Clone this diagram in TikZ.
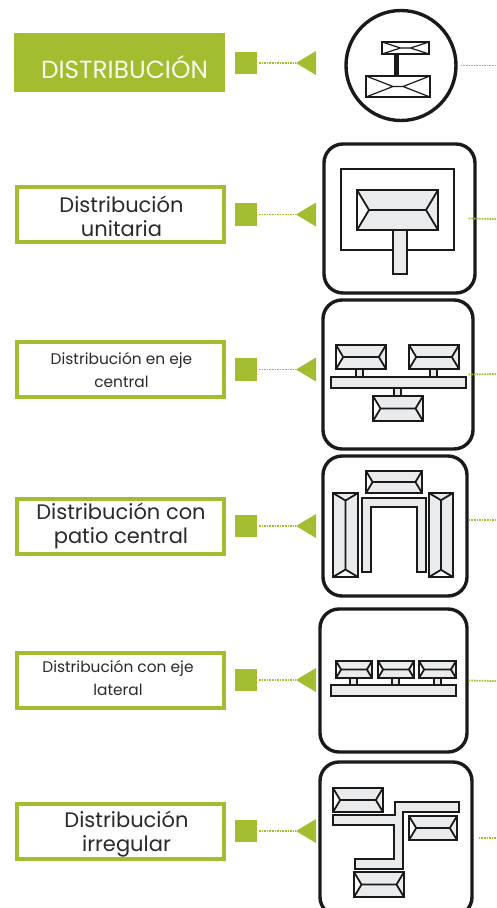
\documentclass[tikz,border=0pt]{standalone}
\usepackage{fontspec}
\setmainfont{Poppins}
\definecolor{lime}{HTML}{A3BD31}
\definecolor{roof}{HTML}{E9EBEC}
\definecolor{ink}{HTML}{1A1A1A}
\definecolor{label}{HTML}{2A2A2A}
\tikzset{
  x=1pt,y=-1pt,
  labelbox/.style={draw=lime,line width=4pt,fill=white,minimum width=207pt,minimum height=55pt,inner sep=0pt},
  bigtext/.style={inner sep=0pt,align=center,text=label,font=\fontsize{21}{24}\selectfont},
  smalltext/.style={inner sep=0pt,align=center,text=label,font=\fontsize{15.4}{23}\selectfont},
  titlebox/.style={fill=lime,minimum width=211pt,minimum height=59pt,inner sep=0pt},
  titletext/.style={inner sep=0pt,text=white!92!lime,font=\fontsize{24.8}{26}\selectfont},
  marker/.style={fill=lime,minimum width=22.5pt,minimum height=22.5pt,inner sep=0pt},
  pointer/.style={fill=lime},
  tie/.style={draw=lime,line width=1.8pt,dash pattern=on 1.6pt off 1pt},
  panel/.style={draw=ink,line width=3.4pt,fill=white,rounded corners=19pt,inner sep=0pt},
  roundpanel/.style={draw=ink,line width=3.4pt,fill=white,circle,minimum size=110pt,inner sep=0pt},
  plan/.style={draw=ink,line width=1.9pt,fill=roof,line join=miter},
  ridge/.style={draw=ink,line width=1.8pt},
}
% horizontal building: x1 y1 x2 y2
\newcommand{\hbuild}[4]{%
  \pgfmathsetmacro{\ym}{(#2+#4)/2}\pgfmathsetmacro{\ins}{0.3*(#4-#2)}%
  \pgfmathsetmacro{\xa}{#1+\ins}\pgfmathsetmacro{\xb}{#3-\ins}%
  \path[plan] (#1,#2) rectangle (#3,#4);
  \path[fill=white] (#1,#2) -- (\xa,\ym) -- (#1,#4) -- cycle;
  \draw[ridge] (#1,#2) -- (\xa,\ym) -- (#1,#4) (#3,#2) -- (\xb,\ym) -- (#3,#4) (\xa,\ym) -- (\xb,\ym);
  \draw[ink,line width=1.9pt] (#1,#2) rectangle (#3,#4);
}
% vertical building
\newcommand{\vbuild}[4]{%
  \pgfmathsetmacro{\xm}{(#1+#3)/2}\pgfmathsetmacro{\ins}{0.3*(#3-#1)}%
  \pgfmathsetmacro{\ya}{#2+\ins}\pgfmathsetmacro{\yb}{#4-\ins}%
  \path[plan] (#1,#2) rectangle (#3,#4);
  \path[fill=white] (#1,#4) -- (\xm,\yb) -- (#3,#4) -- cycle;
  \draw[ridge] (#1,#2) -- (\xm,\ya) -- (#3,#2) (#1,#4) -- (\xm,\yb) -- (#3,#4) (\xm,\ya) -- (\xm,\yb);
  \draw[ink,line width=1.9pt] (#1,#2) rectangle (#3,#4);
}
% small crossed building of the round icon
\newcommand{\xbuild}[4]{%
  \pgfmathsetmacro{\ym}{(#2+#4)/2}\pgfmathsetmacro{\xm}{(#1+#3)/2}%
  \path[draw=ink,line width=2.4pt,fill=white] (#1,#2) rectangle (#3,#4);
  \draw[ink,line width=1.2pt] (#1,#2) -- (\xm-5,\ym) -- (#1,#4) (#3,#2) -- (\xm+5,\ym) -- (#3,#4) (\xm-5,\ym) -- (\xm+5,\ym);
}
% marker, pointer and dotted tie of one row: id, y
\newcommand{\rowlink}[2]{%
  \node[marker] (sq#1) at (246,#2) {};
  \coordinate (tp#1) at (296,#2);
  \path[pointer] (tp#1) -- (316,#2-12) -- (316,#2+12) -- cycle;
  \draw[tie] (sq#1.east) ++(1.5,0) -- (tp#1);
}
\begin{document}
\begin{tikzpicture}
\useasboundingbox (0,0) rectangle (496,908);
\clip (0,0) rectangle (496,908);
\fill[white] (0,0) rectangle (496,908);

% header row
\node[titlebox] (title) at (119.5,62.5) {};
\node[titletext] (titlet) at (124.5,67) {DISTRIBUCIÓN};
\rowlink{0}{63}
\node[roundpanel] (icon0) at (401,65.5) {};
\coordinate (out0) at (495,65.5);
\draw[tie] (icon0.east) ++(3,0) -- (out0);
\draw[ink,line width=5.5pt] (396.5,54) -- (396.5,76);
\xbuild{382}{42}{429}{54}
\xbuild{366}{76}{430}{97}

% unitary
\node[labelbox] (box1) at (120,214) {};
\node[bigtext] (txt1) at (121.5,216) {Distribución\\unitaria};
\rowlink{1}{214.5}
\node[panel,minimum width=151pt,minimum height=149pt] (icon1) at (399.5,218.5) {};
\coordinate (out1) at (496,219);
\draw[tie] (icon1.east) ++(-8,0) -- (out1);
\draw[ink,line width=1.9pt] (341,169) rectangle (454,250);
\path[plan] (393,230) rectangle (407,274);
\hbuild{357}{190}{438}{230}

% central axis
\node[labelbox] (box2) at (120,369) {};
\node[smalltext] (txt2) at (121.5,370) {Distribución en eje\\central};
\rowlink{2}{369.5}
\node[panel,minimum width=150pt,minimum height=149pt] (icon2) at (398,374.5) {};
\coordinate (out2) at (496,374);
\draw[tie] (icon2.east) ++(-6,0) -- (out2);
\path[plan] (356,369) rectangle (363,377);
\path[plan] (430,369) rectangle (437,377);
\path[plan] (394,388) rectangle (401,396);
\path[plan] (331,377) rectangle (466,388);
\hbuild{336}{345}{386}{369}
\hbuild{409}{345}{459}{369}
\hbuild{373}{396}{423}{421}

% central courtyard
\node[labelbox] (box3) at (120,526) {};
\node[bigtext] (txt3) at (121,525.5) {Distribución con\\patio central};
\rowlink{3}{526}
\node[panel,minimum width=144pt,minimum height=140pt] (icon3) at (395,526) {};
\coordinate (out3) at (496,520);
\draw[tie] (icon3.east) ++(0,-6) -- (out3);
\hbuild{366}{471}{422}{493}
\vbuild{333}{493}{358}{577}
\vbuild{429}{493}{453}{577}
\path[plan] (362,572) -- (362,498) -- (426,498) -- (426,572) -- (417,572) -- (417,507) -- (371,507) -- (371,572) -- cycle;

% lateral axis
\node[labelbox] (box4) at (120,680) {};
\node[smalltext] (txt4) at (118,678) {Distribución con eje\\lateral};
\rowlink{4}{680}
\node[panel,minimum width=147pt,minimum height=143pt] (icon4) at (393.5,680.5) {};
\coordinate (out4) at (496,681);
\draw[tie] (icon4.east) -- (out4);
\path[plan] (350,678) rectangle (357,685);
\path[plan] (392,678) rectangle (399,685);
\path[plan] (434,678) rectangle (441,685);
\path[plan] (331,685) rectangle (456,696);
\hbuild{336}{661}{372}{678}
\hbuild{378}{661}{414}{678}
\hbuild{419}{661}{456}{678}

% irregular
\node[labelbox] (box5) at (120,831) {};
\node[bigtext] (txt5) at (126.5,834) {Distribución\\irregular};
\rowlink{5}{831}
\node[panel,minimum width=152pt,minimum height=154pt] (icon5) at (396,839) {};
\coordinate (out5) at (496,838);
\draw[tie] (icon5.east) ++(5,-1) -- (out5);
\path[plan] (333,815) -- (395,815) -- (395,802) -- (459,802) -- (459,812) -- (403,812) -- (403,869) -- (355,869) -- (355,859) -- (394,859) -- (394,825) -- (333,825) -- cycle;
\hbuild{333}{788}{383}{812}
\hbuild{409}{816}{457}{840}
\hbuild{354}{872}{404}{897}
\end{tikzpicture}
\end{document}
